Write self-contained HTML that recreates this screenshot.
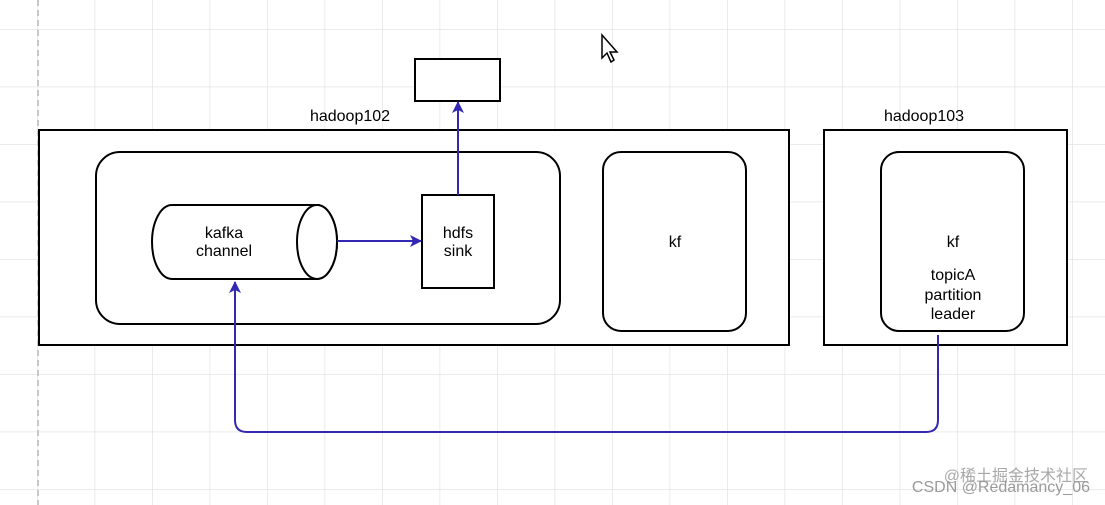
<!DOCTYPE html>
<html><head><style>
body{margin:0;background:#fff;}
svg{display:block;font-family:"Liberation Sans",Arial,sans-serif;}
</style></head><body>
<svg width="1105" height="505" viewBox="0 0 1105 505" xmlns="http://www.w3.org/2000/svg">
<defs>
<pattern id="g" x="37" y="29" width="57.5" height="57.5" patternUnits="userSpaceOnUse">
<path d="M0 0H57.5M0 0V57.5" stroke="#e4e4e4" stroke-width="1.5" fill="none"/>
</pattern>
<marker id="a" markerWidth="14" markerHeight="14" refX="11" refY="6" orient="auto" markerUnits="userSpaceOnUse">
<path d="M0 0L12 6L0 12L3 6Z" fill="#3228b4"/>
</marker>
</defs>
<rect width="1105" height="505" fill="url(#g)"/>
<line x1="38" y1="0" x2="38" y2="505" stroke="#c8c8c8" stroke-width="2" stroke-dasharray="6 4"/>
<rect x="415" y="59" width="85" height="42" fill="#fff" stroke="#000" stroke-width="2"/>
<text x="350" y="121" font-size="16" text-anchor="middle">hadoop102</text>
<text x="924" y="121" font-size="16" text-anchor="middle">hadoop103</text>
<rect x="39" y="130" width="750" height="215" fill="#fff" stroke="#000" stroke-width="2"/>
<rect x="824" y="130" width="243" height="215" fill="#fff" stroke="#000" stroke-width="2"/>
<rect x="96" y="152" width="464" height="172" rx="24" fill="#fff" stroke="#000" stroke-width="2"/>
<rect x="603" y="152" width="143" height="179" rx="18" fill="#fff" stroke="#000" stroke-width="2"/>
<rect x="881" y="152" width="143" height="179" rx="18" fill="#fff" stroke="#000" stroke-width="2"/>
<path d="M172 205 H317 A20 37 0 0 1 317 279 H172 A20 37 0 0 1 172 205Z" fill="#fff" stroke="#000" stroke-width="2"/>
<ellipse cx="317" cy="242" rx="20" ry="37" fill="#fff" stroke="#000" stroke-width="2"/>
<text x="224" y="238" font-size="16" text-anchor="middle">kafka</text>
<text x="224" y="256" font-size="16" text-anchor="middle">channel</text>
<rect x="422" y="195" width="72" height="93" fill="#fff" stroke="#000" stroke-width="2"/>
<text x="458" y="238" font-size="16" text-anchor="middle">hdfs</text>
<text x="458" y="256" font-size="16" text-anchor="middle">sink</text>
<text x="675" y="247" font-size="16" text-anchor="middle">kf</text>
<text x="953" y="247" font-size="16" text-anchor="middle">kf</text>
<text x="953" y="280" font-size="16" text-anchor="middle">topicA</text>
<text x="953" y="300" font-size="16" text-anchor="middle">partition</text>
<text x="953" y="319" font-size="16" text-anchor="middle">leader</text>
<line x1="337" y1="241" x2="421" y2="241" stroke="#3228b4" stroke-width="2" marker-end="url(#a)"/>
<line x1="458" y1="195" x2="458" y2="102" stroke="#3228b4" stroke-width="2" marker-end="url(#a)"/>
<path d="M938 335 V420 Q938 432 926 432 H247 Q235 432 235 420 V282" fill="none" stroke="#3228b4" stroke-width="2" marker-end="url(#a)"/>
<path d="M602 35 L602 58 L607 53 L611 62 L614 60 L610 52 L617 52 Z" fill="#fff" stroke="#000" stroke-width="1.5"/>
<text x="1088" y="481" font-size="16" fill="#a8a8a8" text-anchor="end" font-family="Liberation Sans,Noto Sans CJK SC,sans-serif">@稀土掘金技术社区</text>
<text x="1090" y="492" font-size="16" fill="#9a9a9a" text-anchor="end">CSDN @Redamancy_06</text>
</svg>
</body></html>
